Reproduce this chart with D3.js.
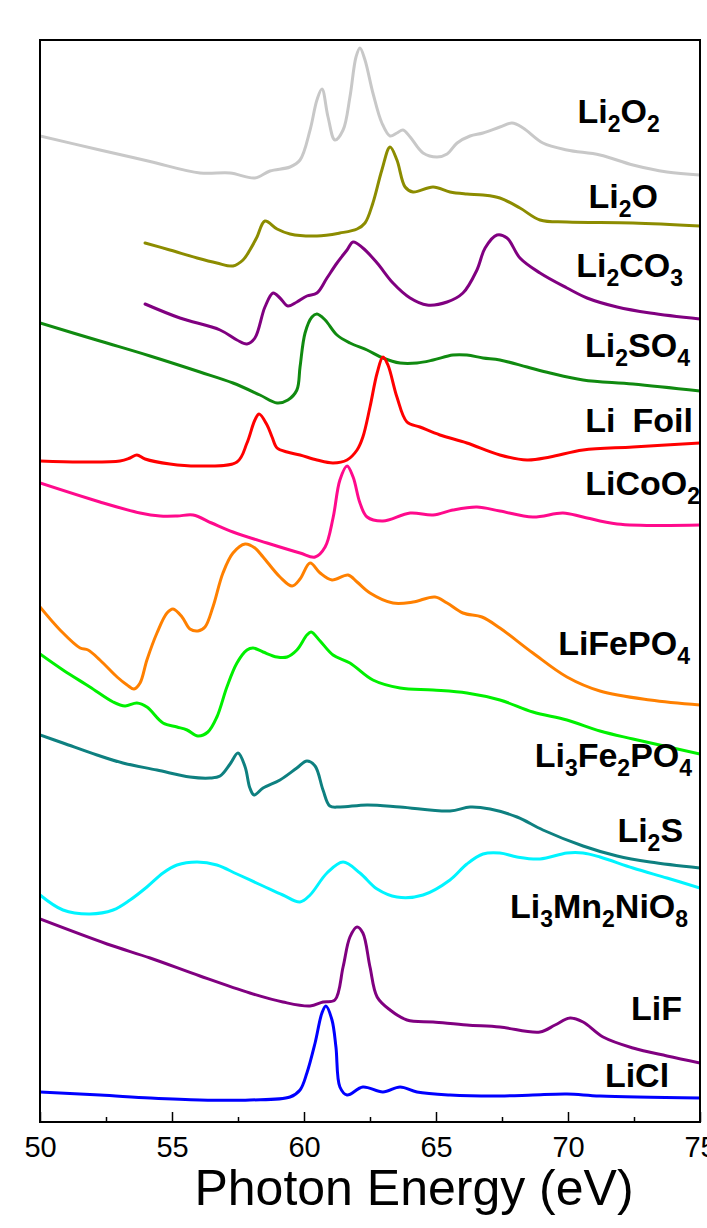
<!DOCTYPE html>
<html>
<head>
<meta charset="utf-8">
<script src="https://cdn.jsdelivr.net/npm/d3@7"></script>
<style>
  body { margin: 0; background: #fff; }
  svg { display: block; }
  text { font-family: "Liberation Sans", Arial, sans-serif; }
</style>
</head>
<body>
<div id="chart"></div>
<script>
// x axis ticks (photon energy, eV)
var xTicks = [50, 55, 60, 65, 70, 75];
var xMinorTicks = [52.5, 57.5, 62.5, 67.5, 72.5];

// spectra: [photon energy (eV), intensity (a.u., stacked offset)]
var li2o2 = [[50,98.6],[52.27,97.2],[54.17,96.05],[56.06,94.9],[57.2,94.9],[58.14,94.4],[58.71,95.1],[59.47,95.5],[59.85,96.2],[60.23,99.2],[60.49,102.2],[60.68,103.3],[60.91,100.5],[61.17,98.2],[61.48,99.2],[61.74,102.5],[61.97,106.5],[62.12,107.4],[62.31,106.2],[62.61,102.9],[62.95,99.9],[63.26,98.6],[63.52,98.9],[63.75,99.2],[64.02,98.5],[64.51,96.9],[65.04,96.5],[65.42,96.8],[65.8,97.9],[66.29,98.6],[66.78,98.9],[67.42,99.5],[67.88,99.9],[68.3,99.4],[69.05,97.9],[69.96,97.2],[71.21,96.7],[72.46,95.7],[73.75,95.0],[75,94.7]];
var li2o = [[53.98,87.9],[54.92,87.2],[55.95,86.4],[56.7,85.9],[57.31,85.6],[57.69,86.2],[57.95,87.2],[58.22,88.5],[58.52,90.1],[58.98,89.3],[59.47,88.8],[60.49,88.6],[61.36,88.9],[62.01,89.3],[62.31,89.9],[62.61,91.9],[62.95,95.2],[63.26,97.5],[63.52,96.2],[63.83,93.5],[64.13,93.0],[64.89,93.5],[65.53,93.0],[66.17,92.8],[66.78,92.7],[67.42,92.4],[68.18,91.4],[68.94,90.2],[69.96,90.0],[72.46,89.9],[75,89.6]];
var li2co3 = [[53.98,81.8],[55.3,80.4],[56.82,79.2],[57.46,78.2],[57.84,77.8],[58.14,78.4],[58.52,81.5],[58.83,82.9],[59.09,82.4],[59.39,81.6],[59.73,82.0],[60.11,82.6],[60.49,82.9],[60.87,84.4],[61.25,85.9],[61.63,87.2],[61.86,88.0],[62.23,87.4],[62.77,85.9],[63.37,83.9],[64.02,82.4],[64.66,81.7],[65.42,82.0],[66.02,82.9],[66.55,85.2],[66.86,87.4],[67.31,88.7],[67.69,88.4],[68.18,86.4],[68.94,84.9],[69.96,83.4],[70.72,82.4],[71.86,81.5],[73.11,80.9],[75,80.3]];
var li2so4 = [[50,79.9],[52.27,78.1],[54.17,76.6],[56.06,75.0],[57.31,73.9],[58.33,72.7],[58.98,71.9],[59.39,72.2],[59.73,73.2],[59.85,75.5],[60.04,78.9],[60.3,80.5],[60.49,80.8],[60.8,80.2],[61.25,78.7],[61.74,77.9],[62.39,77.2],[62.99,76.4],[63.64,75.9],[64.28,75.9],[64.89,76.2],[65.64,76.7],[66.17,76.7],[66.78,76.4],[67.42,76.2],[68.45,75.5],[69.32,74.9],[70.57,74.2],[72.46,73.8],[75,73.1]];
var liFoil = [[50,66.1],[51.52,66.0],[53.03,66.1],[53.41,66.4],[53.67,66.7],[53.98,66.3],[54.92,65.8],[56.06,65.6],[57.46,66.0],[57.84,67.9],[58.14,70.2],[58.3,70.8],[58.6,69.7],[58.79,68.5],[58.98,67.4],[59.36,67.0],[59.85,66.7],[60.49,66.2],[61.1,65.9],[61.63,66.2],[62.01,67.2],[62.23,68.5],[62.5,71.5],[62.77,74.9],[62.99,76.5],[63.18,75.7],[63.52,72.5],[63.9,70.0],[64.39,69.5],[65.15,68.7],[66.17,67.9],[67.42,66.7],[68.45,66.2],[69.32,66.5],[70.57,67.2],[72.46,67.5],[75,67.9]];
var licoo2 = [[50,63.9],[52.27,62.0],[53.79,60.9],[54.55,60.6],[55.2,60.6],[55.8,60.7],[56.5,59.9],[57.31,59.0],[58.6,57.9],[59.85,56.9],[60.42,56.5],[60.8,57.5],[61.1,60.4],[61.36,64.2],[61.63,65.6],[61.86,64.5],[62.12,61.9],[62.39,60.5],[62.99,60.1],[64.02,60.9],[64.89,60.7],[65.64,61.2],[66.55,61.5],[67.42,61.1],[68.67,60.5],[69.81,60.9],[70.57,60.5],[71.86,59.8],[75,59.7]];
var lifepo4 = [[50,51.5],[50.76,49.2],[51.52,47.4],[51.82,47.2],[52.27,46.2],[52.92,44.5],[53.3,43.7],[53.56,43.3],[53.79,43.9],[54.05,46.2],[54.43,48.9],[54.81,50.9],[55.04,51.3],[55.38,50.5],[55.68,49.3],[55.98,49.1],[56.25,49.5],[56.55,51.5],[56.93,54.9],[57.31,56.9],[57.77,57.8],[58.14,57.4],[58.45,56.5],[59.09,54.5],[59.55,53.6],[59.85,54.3],[60.23,55.9],[60.61,54.9],[61.06,54.2],[61.67,54.7],[62.01,54.0],[62.5,52.9],[63.37,51.9],[64.13,52.0],[64.96,52.5],[65.42,51.9],[66.02,50.9],[66.74,50.5],[67.42,49.4],[68.67,46.9],[69.96,44.5],[71.21,43.1],[73.11,42.2],[75,41.7]];
var li3fe2po4 = [[50,46.8],[50.87,45.2],[51.89,43.5],[52.77,42.0],[53.22,41.6],[53.67,41.9],[54.05,41.5],[54.66,39.9],[55.19,39.5],[55.57,39.2],[55.98,38.6],[56.36,39.0],[56.7,40.5],[57.08,43.5],[57.46,45.9],[57.84,47.2],[58.07,47.4],[58.45,47.0],[58.98,46.5],[59.36,46.5],[59.73,47.2],[60.11,48.7],[60.27,49.0],[60.61,48.1],[61.1,46.7],[61.74,45.9],[62.61,44.2],[63.64,43.4],[64.89,43.2],[66.17,42.9],[67.42,42.2],[68.67,41.0],[69.96,40.2],[71.21,39.1],[72.46,38.3],[75,36.8]];
var li2s = [[50,38.7],[50.87,37.9],[52.16,36.7],[53.14,35.9],[54.43,35.2],[55.68,34.5],[56.44,34.4],[56.82,34.6],[57.2,35.8],[57.5,36.9],[57.77,35.5],[57.95,33.4],[58.11,32.7],[58.45,33.4],[59.09,34.2],[59.73,35.4],[60.11,36.1],[60.42,35.6],[60.72,33.2],[60.98,31.6],[61.36,31.5],[62.39,31.7],[63.64,31.5],[65.53,31.1],[66.29,31.5],[67.05,31.3],[68.07,30.5],[69.05,29.2],[70.57,27.6],[71.86,26.6],[73.11,26.0],[75,25.4]];
var li3mn2nio8 = [[50,22.7],[50.87,21.2],[51.89,20.8],[52.77,21.2],[53.41,22.2],[54.05,23.5],[54.66,24.9],[55.19,25.7],[55.95,26.0],[56.7,25.7],[57.46,24.8],[58.45,23.6],[59.2,22.7],[59.85,22.0],[60.23,22.7],[60.87,24.9],[61.48,26.0],[62.12,24.9],[62.77,23.3],[63.52,22.5],[64.51,22.7],[65.53,24.2],[66.17,25.8],[66.78,26.8],[67.42,26.9],[68.07,26.5],[68.94,26.3],[69.96,26.9],[70.57,26.9],[71.21,26.5],[72.46,25.4],[73.75,24.4],[75,23.4]];
var lif = [[50,20.3],[52.54,17.8],[54.17,16.4],[56.06,14.6],[57.95,12.9],[59.2,12.0],[60.23,11.6],[60.72,12.0],[61.17,12.2],[61.48,15.5],[61.74,18.5],[62.01,19.5],[62.23,18.9],[62.5,15.5],[62.77,12.5],[63.26,11.2],[63.9,10.2],[64.89,10.0],[66.17,9.7],[67.42,9.5],[68.94,9.0],[69.51,9.7],[70.08,10.4],[70.57,10.0],[71.33,8.5],[72.46,7.4],[73.75,6.6],[75,5.9]];
var licl = [[50,3.0],[52.27,2.7],[54.17,2.4],[56.06,2.2],[57.95,2.2],[59.47,2.5],[59.85,3.2],[60.11,4.9],[60.42,7.9],[60.68,10.9],[60.83,11.6],[61.06,10.2],[61.21,7.5],[61.36,3.5],[61.63,2.7],[62.23,3.5],[62.99,3.0],[63.64,3.5],[64.28,3.0],[65.53,2.7],[67.42,2.6],[68.67,2.7],[69.96,2.8],[71.21,2.6],[75,2.4]];

// sample names (digits are drawn as subscripts)
var names = ["Li2O2", "Li2O", "Li2CO3", "Li2SO4", "Li\u2002Foil", "LiCoO2", "LiFePO4", "Li3Fe2PO4", "Li2S", "Li3Mn2NiO8", "LiF", "LiCl"];

var series = [li2o2, li2o, li2co3, li2so4, liFoil, licoo2, lifepo4, li3fe2po4, li2s, li3mn2nio8, lif, licl];
var colors = ["#c8c8c8", "#8c8c00", "#800080", "#108a10", "#ff0000", "#ff0a8c", "#ff8000", "#00f000", "#0e8080", "#00f4ff", "#800080", "#0000ff"];

// label anchor (right end, baseline) in data units
var labelPos = [[73.48, 99.9], [73.41, 91.4], [74.36, 84.5], [74.62, 76.5], [74.73, 69.0], [75.0, 62.7],
                [74.62, 46.7], [74.7, 35.5], [74.36, 28.0], [74.55, 20.4], [74.32, 10.2], [73.83, 3.5]];

var width = 707, height = 1228;
var margin = { top: 40, right: 7, bottom: 106, left: 40 };
var plotW = width - margin.left - margin.right;
var plotH = height - margin.top - margin.bottom;

var svg = d3.select("#chart").append("svg")
  .attr("width", width)
  .attr("height", height);

var g = svg.append("g")
  .attr("transform", "translate(" + margin.left + "," + margin.top + ")");

var x = d3.scaleLinear().domain([50, 75]).range([0, plotW]);
var y = d3.scaleLinear().domain([0, 108.2]).range([plotH, 0]);

g.append("clipPath").attr("id", "plotclip")
  .append("rect").attr("width", plotW).attr("height", plotH);

var line = d3.line()
  .x(function(d) { return x(d[0]); })
  .y(function(d) { return y(d[1]); })
  .curve(d3.curveCatmullRom.alpha(0.5));

g.append("g").attr("clip-path", "url(#plotclip)")
  .selectAll("path")
  .data(series)
  .enter()
  .append("path")
  .attr("d", line)
  .attr("fill", "none")
  .attr("stroke", function(d, i) { return colors[i]; })
  .attr("stroke-width", 3)
  .attr("stroke-linejoin", "round")
  .attr("stroke-linecap", "round");

// labels with subscripts
names.forEach(function(name, i) {
  var t = g.append("text")
    .attr("x", x(labelPos[i][0]))
    .attr("y", y(labelPos[i][1]))
    .attr("text-anchor", "end")
    .attr("font-size", 34)
    .attr("font-weight", "bold")
    .attr("fill", "#000");
  var parts = name.match(/\d+|\D+/g);
  var down = false;
  parts.forEach(function(p) {
    var ts = t.append("tspan").text(p);
    if (/^\d+$/.test(p)) {
      ts.attr("font-size", 23);
      if (!down) ts.attr("dy", 9);
      down = true;
    } else {
      if (down) ts.attr("dy", -9);
      down = false;
    }
  });
});

// bottom axis, ticks point inward
var xAxis = d3.axisBottom(x)
  .tickValues(xTicks)
  .tickSize(-10)
  .tickPadding(14)
  .tickFormat(d3.format("d"));

var xMinor = d3.axisBottom(x)
  .tickValues(xMinorTicks)
  .tickSize(-5)
  .tickFormat("");

var ax = g.append("g")
  .attr("transform", "translate(0," + plotH + ")")
  .call(xAxis);
ax.select(".domain").remove();
ax.selectAll(".tick line").attr("stroke", "#000").attr("stroke-width", 1.5);
ax.selectAll(".tick text")
  .attr("font-size", 29)
  .attr("font-family", "'Liberation Sans', Arial, sans-serif")
  .attr("fill", "#000");

var axm = g.append("g")
  .attr("transform", "translate(0," + plotH + ")")
  .call(xMinor);
axm.select(".domain").remove();
axm.selectAll(".tick line").attr("stroke", "#000").attr("stroke-width", 1.5);

// frame
g.append("rect")
  .attr("width", plotW)
  .attr("height", plotH)
  .attr("fill", "none")
  .attr("stroke", "#000")
  .attr("stroke-width", 2);

// axis title
svg.append("text")
  .attr("x", 414)
  .attr("y", 1205)
  .attr("text-anchor", "middle")
  .attr("font-size", 50)
  .attr("fill", "#000")
  .text("Photon Energy (eV)");
</script>
</body>
</html>
